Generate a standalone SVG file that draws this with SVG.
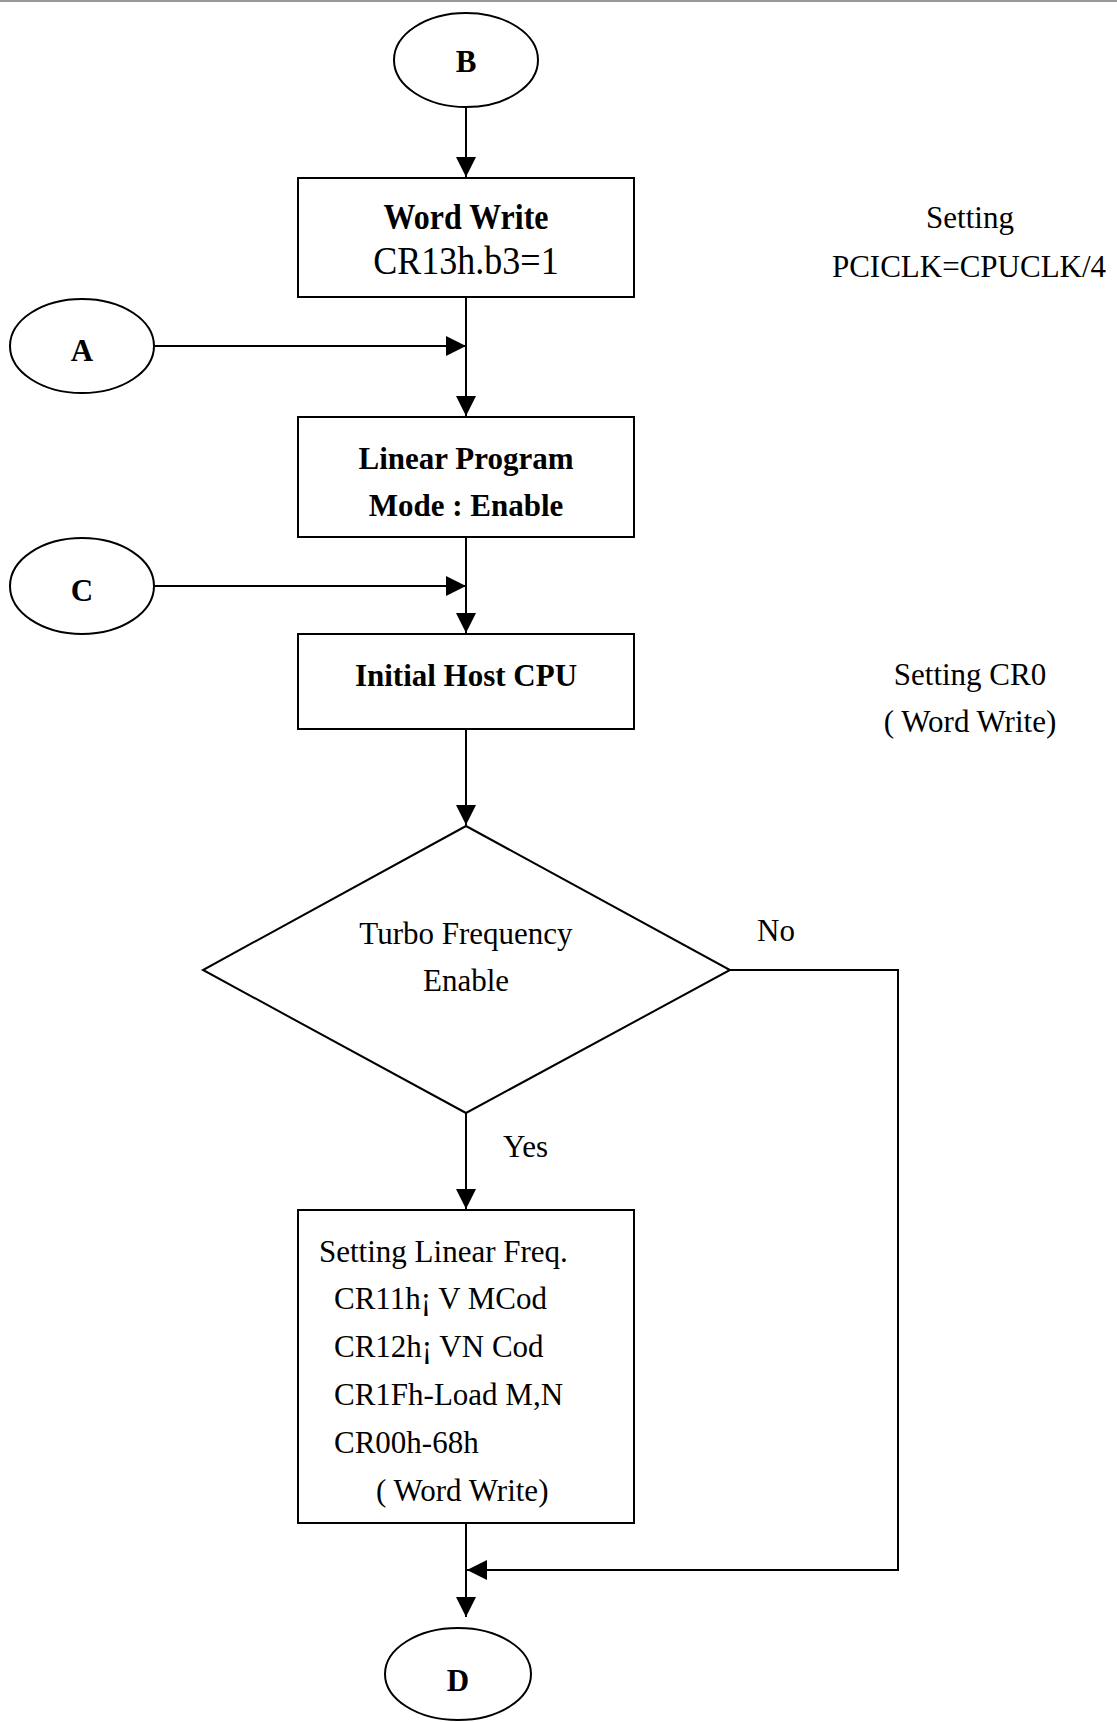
<svg xmlns="http://www.w3.org/2000/svg" width="1117" height="1722" viewBox="0 0 1117 1722">
<style>
.shape{fill:#fff;stroke:#000;stroke-width:2}
.conn{fill:none;stroke:#000;stroke-width:2}
text{font-family:"Liberation Serif","Times New Roman",serif;fill:#000}
.b{font-weight:bold;font-size:31px;text-anchor:middle}
.r{font-size:31px}
.c{text-anchor:middle}
</style>
<defs>
<marker id="arr" markerUnits="userSpaceOnUse" markerWidth="20" markerHeight="20" refX="20" refY="10" orient="auto">
<path d="M0,0 L20,10 L0,20 z" fill="#000"/>
</marker>
</defs>
<rect x="0" y="0" width="1117" height="1722" fill="#fff"/>
<line x1="0" y1="1" x2="1117" y2="1" stroke="#999" stroke-width="2"/>
<g id="connectors">
<line class="conn" x1="466" y1="107" x2="466" y2="177" marker-end="url(#arr)"/>
<line class="conn" x1="466" y1="297" x2="466" y2="416" marker-end="url(#arr)"/>
<line class="conn" x1="155" y1="346" x2="466" y2="346" marker-end="url(#arr)"/>
<line class="conn" x1="466" y1="537" x2="466" y2="633" marker-end="url(#arr)"/>
<line class="conn" x1="155" y1="586" x2="466" y2="586" marker-end="url(#arr)"/>
<line class="conn" x1="466" y1="729" x2="466" y2="825" marker-end="url(#arr)"/>
<line class="conn" x1="466" y1="1113" x2="466" y2="1209" marker-end="url(#arr)"/>
<polyline class="conn" points="730,970 898,970 898,1570 467,1570" marker-end="url(#arr)"/>
<line class="conn" x1="466" y1="1523" x2="466" y2="1617" marker-end="url(#arr)"/>
<text class="r" x="757" y="941">No</text>
<text class="r" x="503" y="1157">Yes</text>
</g>
<g id="nodeB">
<ellipse class="shape" cx="466" cy="60" rx="72" ry="47"/>
<text class="b" x="466" y="72">B</text>
</g>
<g id="nodeWordWrite">
<rect class="shape" x="298" y="178" width="336" height="119"/>
<text class="b" transform="translate(466,229) scale(1,1.12)" x="0" y="0" style="font-size:32px">Word Write</text>
<text class="c" transform="translate(466,274) scale(1,1.12)" x="0" y="0" style="font-size:36px">CR13h.b3=1</text>
</g>
<g id="noteSetting">
<text class="r c" x="970" y="228">Setting</text>
<text class="r c" x="969" y="277">PCICLK=CPUCLK/4</text>
</g>
<g id="nodeA">
<ellipse class="shape" cx="82" cy="346" rx="72" ry="47"/>
<text class="b" x="82" y="361">A</text>
</g>
<g id="nodeLinear">
<rect class="shape" x="298" y="417" width="336" height="120"/>
<text class="b" x="466" y="469">Linear Program</text>
<text class="b" x="466" y="516">Mode : Enable</text>
</g>
<g id="nodeC">
<ellipse class="shape" cx="82" cy="586" rx="72" ry="48"/>
<text class="b" x="82" y="601">C</text>
</g>
<g id="nodeInitial">
<rect class="shape" x="298" y="634" width="336" height="95"/>
<text class="b" x="466" y="686">Initial Host CPU</text>
</g>
<g id="noteCR0">
<text class="r c" x="970" y="685">Setting CR0</text>
<text class="r c" x="970" y="732">( Word Write)</text>
</g>
<g id="nodeTurbo">
<polygon class="shape" points="466,826 730,970 466,1113 203,970"/>
<text class="r c" x="466" y="944">Turbo Frequency</text>
<text class="r c" x="466" y="991">Enable</text>
</g>
<g id="nodeSettingLinear">
<rect class="shape" x="298" y="1210" width="336" height="313"/>
<text class="r" x="319" y="1262">Setting Linear Freq.</text>
<text class="r" x="334" y="1309">CR11h¡ V MCod</text>
<text class="r" x="334" y="1357">CR12h¡ VN Cod</text>
<text class="r" x="334" y="1405">CR1Fh-Load M,N</text>
<text class="r" x="334" y="1453">CR00h-68h</text>
<text class="r" x="376" y="1501">( Word Write)</text>
</g>
<g id="nodeD">
<ellipse class="shape" cx="458" cy="1674" rx="73" ry="46"/>
<text class="b" x="458" y="1691">D</text>
</g>
</svg>
